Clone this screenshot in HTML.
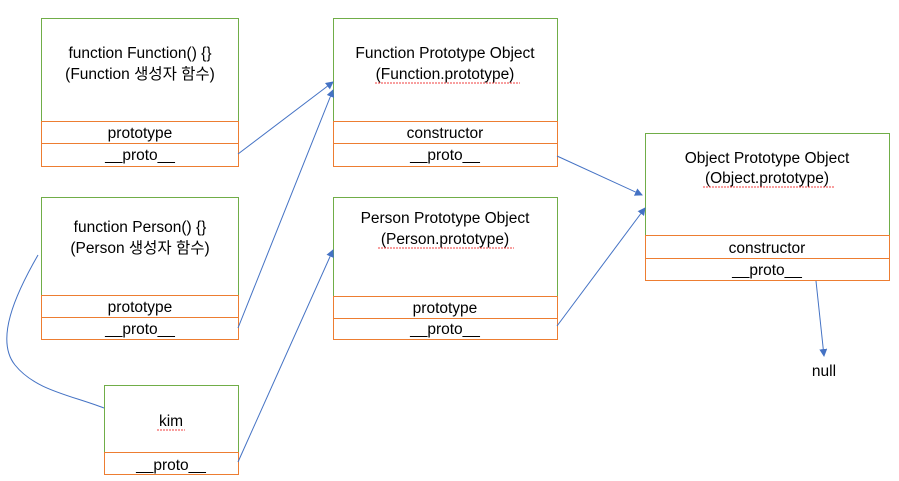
<!DOCTYPE html>
<html><head><meta charset="utf-8"><style>
body{margin:0;background:#fff}
svg{display:block}
text{font-family:"Liberation Sans","Noto Sans CJK KR",sans-serif;font-size:15.5px;fill:#000;text-anchor:middle}
.g{fill:none;stroke:#70ad47;stroke-width:1}
.o{fill:none;stroke:#ed7d31;stroke-width:1}
.l{fill:none;stroke:#4472c4;stroke-width:1}
.sq{fill:none;stroke:#e00;stroke-width:0.8;stroke-dasharray:2 1}
</style></head><body>
<svg width="899" height="481" viewBox="0 0 899 481">
<defs><marker id="a" markerWidth="8" markerHeight="8" refX="7" refY="4" orient="auto" markerUnits="userSpaceOnUse"><path d="M0,0 L8,4 L0,8 z" fill="#4472c4"/></marker></defs>
<rect class="g" x="41.5" y="18.5" width="197" height="148"/>
<rect class="o" x="41.5" y="121.5" width="197" height="22"/>
<rect class="o" x="41.5" y="143.5" width="197" height="23"/>
<text x="140" y="58">function Function() {}</text>
<text x="140" y="79">(Function 생성자 함수)</text>
<text x="140" y="138">prototype</text>
<text x="140" y="160">__proto__</text>
<rect class="g" x="41.5" y="197.5" width="197" height="142"/>
<rect class="o" x="41.5" y="295.5" width="197" height="22"/>
<rect class="o" x="41.5" y="317.5" width="197" height="22"/>
<text x="140" y="232">function Person() {}</text>
<text x="140" y="253">(Person 생성자 함수)</text>
<text x="140" y="312">prototype</text>
<text x="140" y="334">__proto__</text>
<rect class="g" x="104.5" y="385.5" width="134" height="89"/>
<rect class="o" x="104.5" y="452.5" width="134" height="22"/>
<text x="171" y="426">kim</text>
<path class="sq" d="M157,430 h28"/>
<text x="171" y="470">__proto__</text>
<rect class="g" x="333.5" y="18.5" width="224" height="148"/>
<rect class="o" x="333.5" y="121.5" width="224" height="22"/>
<rect class="o" x="333.5" y="143.5" width="224" height="23"/>
<text x="445" y="58">Function Prototype Object</text>
<text x="445" y="79">(Function.prototype)</text>
<path class="sq" d="M375,83 h145"/>
<text x="445" y="138">constructor</text>
<text x="445" y="160">__proto__</text>
<rect class="g" x="333.5" y="197.5" width="224" height="142"/>
<rect class="o" x="333.5" y="296.5" width="224" height="22"/>
<rect class="o" x="333.5" y="318.5" width="224" height="21"/>
<text x="445" y="223">Person Prototype Object</text>
<text x="445" y="244">(Person.prototype)</text>
<path class="sq" d="M378,248 h136"/>
<text x="445" y="313">prototype</text>
<text x="445" y="334">__proto__</text>
<rect class="g" x="645.5" y="133.5" width="244" height="147"/>
<rect class="o" x="645.5" y="235.5" width="244" height="23"/>
<rect class="o" x="645.5" y="258.5" width="244" height="22"/>
<text x="767" y="163">Object Prototype Object</text>
<text x="767" y="183">(Object.prototype)</text>
<path class="sq" d="M703,187 h132"/>
<text x="767" y="253">constructor</text>
<text x="767" y="275">__proto__</text>
<text x="824" y="376">null</text>
<path class="l" d="M238,154 L333,82" marker-end="url(#a)"/>
<path class="l" d="M238,328 L333,90" marker-end="url(#a)"/>
<path class="l" d="M238,462 L333,250" marker-end="url(#a)"/>
<path class="l" d="M557,156 L642,195" marker-end="url(#a)"/>
<path class="l" d="M557,326 L645,208" marker-end="url(#a)"/>
<path class="l" d="M816,281 L824,356" marker-end="url(#a)"/>
<path class="l" d="M38,255 C15,295 -5,340 15,365 C35,390 70,395 104,408" stroke="#2f5597"/>
</svg>
</body></html>
